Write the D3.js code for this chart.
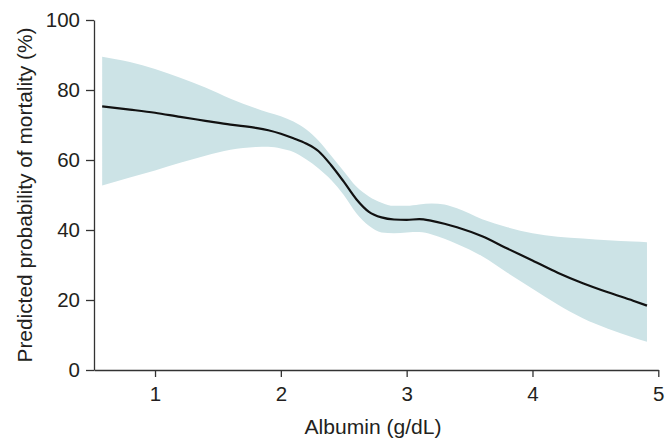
<!DOCTYPE html>
<html>
<head>
<meta charset="utf-8">
<script src="https://cdn.jsdelivr.net/npm/d3@7"></script>
<style>
  body { margin: 0; background: #fff; }
  svg text { font-family: "Liberation Sans", Arial, Helvetica, sans-serif; fill: #231f20; }
</style>
</head>
<body>
<div id="chart"></div>
<script>

// albumin values (g/dL) along the curve
var albumin = [0.58, 0.8, 1.0, 1.2, 1.4, 1.6, 1.8, 1.9, 2.0, 2.1, 2.2, 2.3, 2.4, 2.5, 2.6, 2.7,
    2.8, 2.9, 3.0, 3.1, 3.2, 3.3, 3.4, 3.6, 3.8, 4.0, 4.2, 4.4, 4.6, 4.8, 4.91];

// predicted probability of mortality (%)
var predicted = [75.3, 74.4, 73.5, 72.3, 71.2, 70.1, 69.2, 68.5, 67.5, 66.2, 64.7, 62.5, 58.5, 53.8, 48.8, 45.2,
    43.6, 43.0, 42.9, 43.1, 42.6, 41.8, 40.8, 38.2, 34.7, 31.3, 27.8, 24.8, 22.2, 19.8, 18.4];

var upper = [89.5, 88.0, 86.0, 83.5, 80.7, 77.5, 74.8, 73.6, 72.5, 71.0, 68.8, 65.5, 61.2, 56.8, 52.4, 49.6,
    47.8, 46.9, 46.9, 47.3, 47.6, 47.3, 46.2, 43.1, 40.8, 39.1, 38.1, 37.6, 37.1, 36.7, 36.5];

var lower = [52.7, 55.0, 57.0, 59.2, 61.2, 62.9, 63.7, 63.8, 63.3, 62.3, 60.2, 57.6, 54.3, 50.0, 44.8, 41.2,
    39.3, 39.1, 39.3, 39.4, 38.7, 37.5, 36.0, 32.5, 27.8, 23.2, 18.7, 14.8, 11.8, 9.3, 8.1];

var xTicks = [1, 2, 3, 4, 5];
var yTicks = [0, 20, 40, 60, 80, 100];

var df = albumin.map(function (a, i) {
    return {x: a, y: predicted[i], hi: upper[i], lo: lower[i]};
});

const W = 666, H = 438;
const margin = {top: 20, right: 8, bottom: 68, left: 94};

const svg = d3.select("#chart")
    .append("svg")
    .attr("width", W)
    .attr("height", H);

var xScale = d3.scaleLinear()
    .domain([0.515, 5])
    .range([margin.left, 658.3]);

var yScale = d3.scaleLinear()
    .domain([0, 100])
    .range([H - margin.bottom, margin.top]);

// confidence band
var area = d3.area()
    .x(function (d) { return xScale(d.x); })
    .y0(function (d) { return yScale(d.lo); })
    .y1(function (d) { return yScale(d.hi); })
    .curve(d3.curveMonotoneX);

svg.append("path")
    .datum(df)
    .attr("d", area)
    .style("fill", "#cce3e6");

var line = d3.line()
    .x(function (d) { return xScale(d.x); })
    .y(function (d) { return yScale(d.y); })
    .curve(d3.curveMonotoneX);

svg.append("path")
    .datum(df)
    .attr("d", line)
    .style("fill", "none")
    .style("stroke", "#111")
    .style("stroke-width", 2.2);

// axes
svg.append("g")
    .attr("class", "x-axis")
    .attr("transform", "translate(0," + yScale(0) + ")")
    .call(d3.axisBottom(xScale)
        .tickValues(xTicks)
        .tickSizeInner(7)
        .tickSizeOuter(0)
        .tickPadding(9)
        .tickFormat(d3.format("d")));

svg.append("g")
    .attr("class", "y-axis")
    .attr("transform", "translate(" + margin.left + ",0)")
    .call(d3.axisLeft(yScale)
        .tickValues(yTicks)
        .tickSizeInner(8)
        .tickSizeOuter(0)
        .tickPadding(6)
        .tickFormat(d3.format("d")));

svg.selectAll(".x-axis path, .y-axis path, .x-axis line, .y-axis line")
    .style("stroke", "#333")
    .style("stroke-width", 1.3);

svg.selectAll(".x-axis text, .y-axis text")
    .style("font-size", "20.5px")
    .style("fill", "#231f20");

svg.append("text")
    .attr("class", "x-axis-label")
    .attr("x", 373)
    .attr("y", 434)
    .attr("text-anchor", "middle")
    .attr("textLength", 137)
    .attr("lengthAdjust", "spacingAndGlyphs")
    .style("font-size", "20px")
    .text("Albumin (g/dL)");

svg.append("text")
    .attr("class", "y-axis-label")
    .attr("transform", "translate(31.5," + (yScale(50)) + ") rotate(-90)")
    .attr("text-anchor", "middle")
    .attr("textLength", 335)
    .attr("lengthAdjust", "spacingAndGlyphs")
    .style("font-size", "20px")
    .text("Predicted probability of mortality (%)");

</script>
</body>
</html>
